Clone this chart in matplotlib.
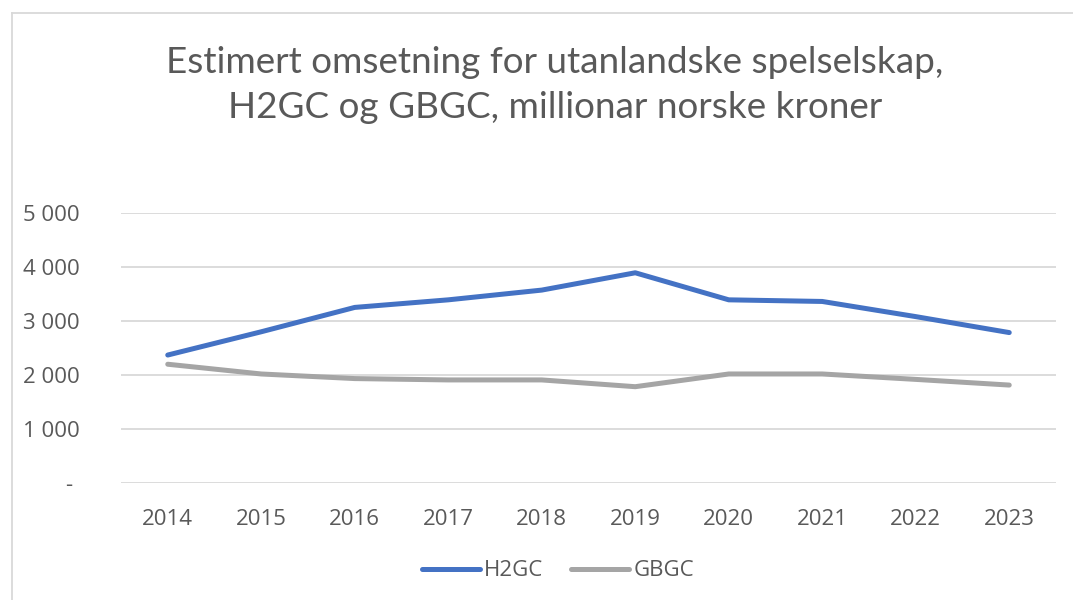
import numpy as np
import matplotlib
matplotlib.use("Agg")
from matplotlib import pyplot as plt
from matplotlib.lines import Line2D

years = ["2014", "2015", "2016", "2017", "2018", "2019", "2020", "2021", "2022", "2023"]
h2gc = [2370, 2800, 3250, 3390, 3570, 3890, 3390, 3360, 3080, 2785]
gbgc = [2200, 2020, 1935, 1910, 1910, 1785, 2020, 2020, 1920, 1815]
yticks = [0, 1000, 2000, 3000, 4000, 5000]
ytick_labels = ["- ", "1 000", "2 000", "3 000", "4 000", "5 000"]
title = "Estimert omsetning for utanlandske spelselskap,\nH2GC og GBGC, millionar norske kroner"

W, H = 1073, 600
txt = "#595959"
grid = "#D9D9D9"
plt.rcParams['font.family'] = ['Open Sans', 'DejaVu Sans']

fig = plt.figure(figsize=(W / 100, H / 100), dpi=100)
fig.patch.set_facecolor('w')

# chart border (only top & left visible in the crop)
fig.add_artist(Line2D([12 / W, 12 / W], [0, 1 - 13 / H], transform=fig.transFigure,
                      color=grid, lw=1.3))
fig.add_artist(Line2D([12 / W, 1], [1 - 13 / H, 1 - 13 / H], transform=fig.transFigure,
                      color=grid, lw=1.3))

# plot area in pixel coords
x0, x1 = 121, 1056
y_top, y_bot = 212.7, 483.3
ax = fig.add_axes([x0 / W, 1 - y_bot / H, (x1 - x0) / W, (y_bot - y_top) / H])

x = np.arange(len(years))
ax.plot(x, h2gc, color="#4472C4", lw=3.6, solid_capstyle='round',
        solid_joinstyle='round', label="H2GC", zorder=3)
ax.plot(x, gbgc, color="#A5A5A5", lw=3.6, solid_capstyle='round',
        solid_joinstyle='round', label="GBGC", zorder=3)

ax.set_xlim(-0.5, len(years) - 0.5)
ax.set_ylim(0, 5000)
ax.set_yticks(yticks)
ax.set_yticklabels(ytick_labels)
ax.set_xticks(x)
ax.set_xticklabels(years)
ax.tick_params(axis='both', length=0, labelsize=16, colors=txt)
ax.tick_params(axis='y', pad=30)
ax.tick_params(axis='x', pad=18.5)
ax.grid(axis='y', color=grid, lw=1.3)
ax.set_axisbelow(True)
for s in ax.spines.values():
    s.set_visible(False)

fig.text(0.5 * (168 + 942) / W, 1 - 85 / H, title, ha='center', va='center',
         fontsize=26.6, color=txt, family='Lato', linespacing=1.45)

leg = fig.legend(loc='center', bbox_to_anchor=(558 / W, 1 - 571 / H), ncol=2,
                 frameon=False, fontsize=16, handlelength=2.6, handletextpad=0.2,
                 columnspacing=1.25)
for t in leg.get_texts():
    t.set_color(txt)

fig.savefig("out.png", dpi=100)
